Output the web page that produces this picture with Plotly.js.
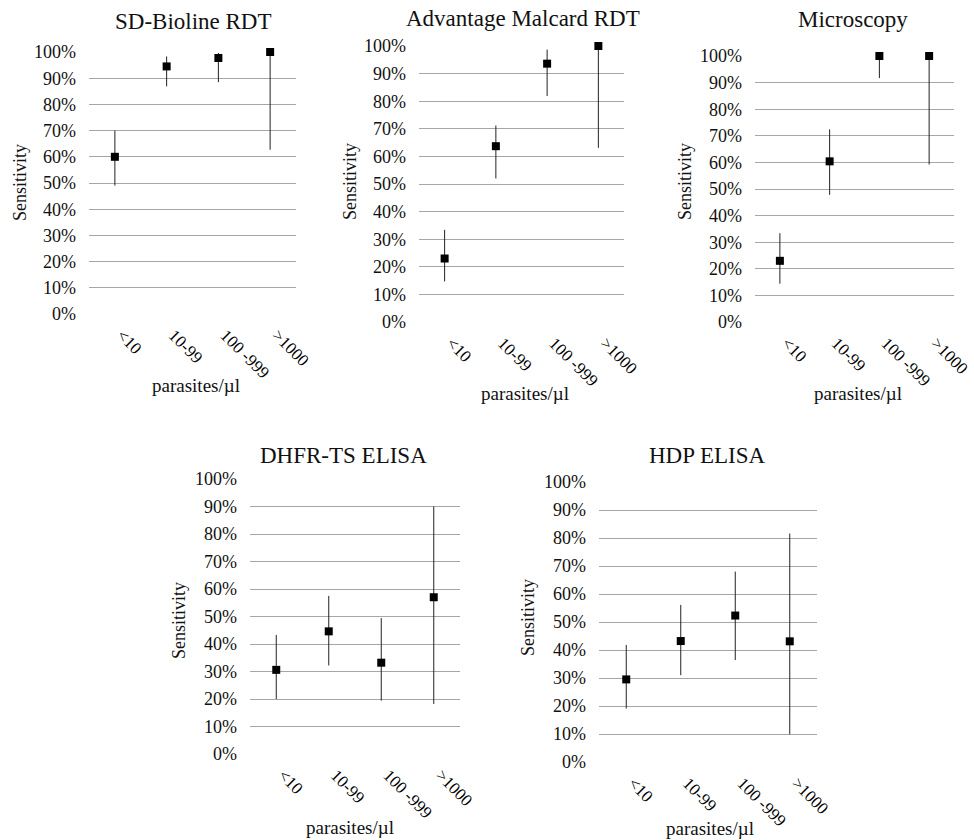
<!DOCTYPE html>
<html>
<head>
<meta charset="utf-8">
<script src="https://cdn.plot.ly/plotly-3.0.1.min.js"></script>
<style>
html,body{margin:0;padding:0;background:#fff;}
#chart{width:974px;height:840px;}
</style>
</head>
<body>
<div id="chart"></div>
<script>
// ---- Data ----
const categories = ['<10', '10-99', '100 -999', '>1000'];
const yTickVals = [0, 0.1, 0.2, 0.3, 0.4, 0.5, 0.6, 0.7, 0.8, 0.9, 1.0];
const yTickText = ['0%', '10%', '20%', '30%', '40%', '50%', '60%', '70%', '80%', '90%', '100%'];

const panelTitles = ['SD-Bioline RDT', 'Advantage Malcard RDT', 'Microscopy', 'DHFR-TS ELISA', 'HDP ELISA'];

const sdValues = [0.60, 0.945, 0.977, 1.00];
const sdLow    = [0.49, 0.869, 0.885, 0.627];
const sdHigh   = [0.70, 0.983, 0.996, 1.00];

const advValues = [0.23, 0.637, 0.936, 1.00];
const advLow    = [0.147, 0.52, 0.819, 0.631];
const advHigh   = [0.334, 0.712, 0.987, 1.00];

const micValues = [0.23, 0.604, 1.00, 1.00];
const micLow    = [0.144, 0.478, 0.917, 0.592];
const micHigh   = [0.334, 0.724, 1.00, 1.00];

const dhfrValues = [0.306, 0.446, 0.332, 0.570];
const dhfrLow    = [0.200, 0.322, 0.194, 0.182];
const dhfrHigh   = [0.433, 0.575, 0.494, 0.900];

const hdpValues = [0.295, 0.432, 0.523, 0.431];
const hdpLow    = [0.191, 0.310, 0.364, 0.099];
const hdpHigh   = [0.418, 0.561, 0.680, 0.816];

const series = [
  [sdValues, sdLow, sdHigh],
  [advValues, advLow, advHigh],
  [micValues, micLow, micHigh],
  [dhfrValues, dhfrLow, dhfrHigh],
  [hdpValues, hdpLow, hdpHigh]
];

// ---- Layout geometry (pixels) ----
const W = 974, H = 840;
const boxes = [
  {x0: 89,  x1: 296, y0: 52,  y1: 314},
  {x0: 419, x1: 624, y0: 46,  y1: 322},
  {x0: 755, x1: 954, y0: 56,  y1: 322},
  {x0: 250, x1: 460, y0: 479, y1: 754},
  {x0: 599, x1: 817, y0: 482, y1: 762}
];
const titlePos = [[193, 21], [523, 18.5], [853, 19.5], [343, 456], [707, 456]];
const sensPos  = [[20, 183], [350, 182], [685, 182], [179, 621], [528, 618]];
const parPos   = [[196, 386], [525, 393], [858, 393], [350, 827], [710, 828]];

const FONT = 'Liberation Serif';
const px = x => x / W;
const py = y => 1 - y / H;

const traces = [];
const layout = {
  width: W, height: H,
  margin: {l: 0, r: 0, t: 0, b: 0},
  paper_bgcolor: '#fff', plot_bgcolor: '#fff',
  showlegend: false,
  font: {family: FONT, color: '#111', size: 18},
  annotations: []
};

series.forEach((s, i) => {
  const [vals, low, high] = s;
  const n = i === 0 ? '' : String(i + 1);
  traces.push({
    type: 'scatter', mode: 'markers',
    x: categories, y: vals,
    xaxis: 'x' + n, yaxis: 'y' + n,
    cliponaxis: false,
    marker: {symbol: 'square', size: 8, color: '#000'},
    error_y: {
      type: 'data', symmetric: false,
      array: high.map((h, k) => h - vals[k]),
      arrayminus: low.map((l, k) => vals[k] - l),
      color: '#222', thickness: 1, width: 0
    },
    hoverinfo: 'skip'
  });
  const b = boxes[i];
  layout['xaxis' + n] = {
    domain: [px(b.x0), px(b.x1)],
    anchor: 'y' + n,
    type: 'category',
    range: [-0.5, 3.5],
    showgrid: false, zeroline: false, showline: false,
    ticks: '', tickangle: 45,
    ticklabelstandoff: 7,
    ticklabelshift: 7,
    tickfont: {family: FONT, size: 17, color: '#000'},
    fixedrange: true
  };
  layout['yaxis' + n] = {
    domain: [py(b.y1), py(b.y0)],
    anchor: 'x' + n,
    range: [0, 1],
    tickvals: yTickVals, ticktext: yTickText,
    showgrid: true, gridcolor: '#a6a6a6', gridwidth: 1,
    zeroline: false, showline: false, ticks: '',
    ticklabelstandoff: 12,
    tickfont: {family: FONT, size: 18, color: '#111'},
    fixedrange: true
  };
  layout.annotations.push({
    text: panelTitles[i], xref: 'paper', yref: 'paper',
    x: px(titlePos[i][0]), y: py(titlePos[i][1]),
    xanchor: 'center', yanchor: 'middle', showarrow: false,
    font: {family: FONT, size: 23, color: '#111'}
  });
  layout.annotations.push({
    text: 'Sensitivity', xref: 'paper', yref: 'paper',
    x: px(sensPos[i][0]), y: py(sensPos[i][1]),
    xanchor: 'center', yanchor: 'middle', showarrow: false, textangle: -90,
    font: {family: FONT, size: 18, color: '#111'}
  });
  layout.annotations.push({
    text: 'parasites/µl', xref: 'paper', yref: 'paper',
    x: px(parPos[i][0]), y: py(parPos[i][1]),
    xanchor: 'center', yanchor: 'middle', showarrow: false,
    font: {family: FONT, size: 19, color: '#111'}
  });
});

Plotly.newPlot('chart', traces, layout, {displayModeBar: false, staticPlot: true});
</script>
</body>
</html>
